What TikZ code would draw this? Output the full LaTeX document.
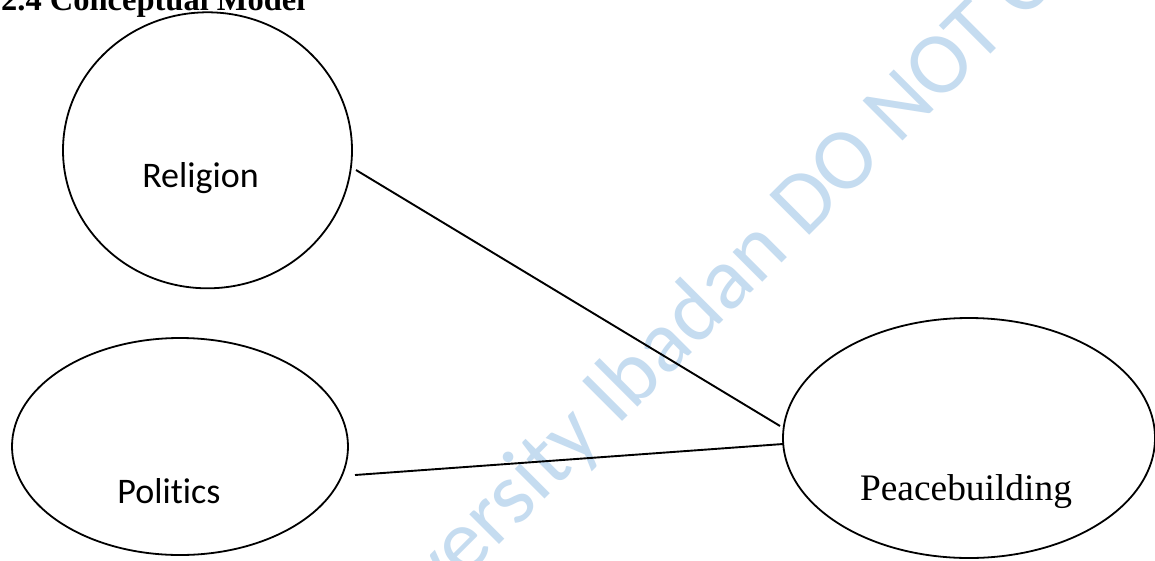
\documentclass[tikz,border=0pt]{standalone}
\usepackage{fontspec}
\setmainfont{Liberation Serif}
\newfontfamily\calib[Ligatures=NoCommon]{Carlito}
\usetikzlibrary{shapes.geometric}
\definecolor{wmblue}{HTML}{C5DCF0}
\tikzset{
  concept/.style={draw=black, line width=1.8pt, ellipse, inner sep=0pt},
  lbl/.style={anchor=base, inner sep=0pt, font=\calib\fontsize{36}{40}\selectfont},
  link/.style={draw=black, line width=1.9pt},
}
\begin{document}
\begin{tikzpicture}[x=1pt,y=-1pt]
\useasboundingbox (0,0) rectangle (1155,560);
\clip (0,0) rectangle (1155,560);
\fill[white] (0,0) rectangle (1155,560);
% watermark
\node[anchor=base, rotate=45, inner sep=0pt, text=wmblue, font=\calib\fontsize{88}{90}\selectfont] (wm) at (754.5,290) {University Ibadan DO NOT COPY};
% title
\node[anchor=base west, inner sep=0pt, font=\bfseries\fontsize{32.5}{36}\selectfont] (title) at (1,10) {2.4 Conceptual Model};
% ellipses
\node[concept, minimum width=289pt, minimum height=276pt] (rel) at (207.5,150.3) {};
\node[concept, minimum width=336pt, minimum height=217pt] (pol) at (180,446.5) {};
\node[concept, minimum width=372pt, minimum height=240pt] (pea) at (969,438) {};
% labels
\node[lbl] (reltxt) at (200.5,187) {Religion};
\node[lbl] (poltxt) at (169,503) {Politics};
\node[anchor=base, inner sep=0pt, font=\fontsize{37.4}{40}\selectfont] (peatxt) at (966,500) {Peacebuilding};
% connectors
\coordinate (r1) at (356,170);
\coordinate (r2) at (780,426);
\coordinate (p1) at (355,475);
\coordinate (p2) at (783,444);
\draw[link] (r1) -- (r2);
\draw[link] (p1) -- (p2);
\end{tikzpicture}
\end{document}
